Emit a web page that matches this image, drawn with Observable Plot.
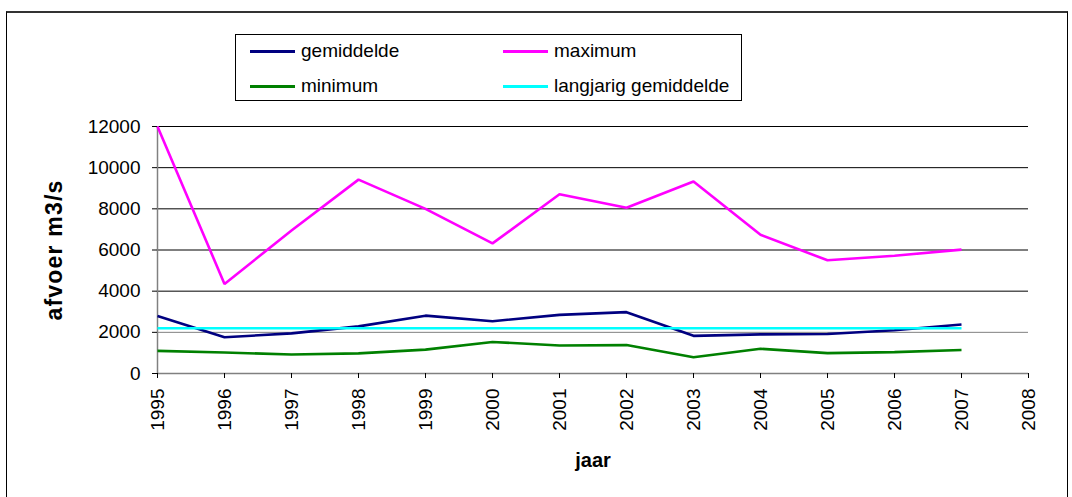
<!DOCTYPE html>
<html>
<head>
<meta charset="utf-8">
<script src="https://cdn.jsdelivr.net/npm/d3@7"></script>
<script src="https://cdn.jsdelivr.net/npm/@observablehq/plot@0.6"></script>
<style>
  body { margin: 0; background: #fff; }
  #wrap { position: relative; width: 1072px; height: 497px; overflow: hidden; font-family: "Liberation Sans", Arial, sans-serif; }
  #frame { position: absolute; left: 6px; top: 11px; width: 1062px; height: 500px; border-top: 2px solid #333; border-left: 1px solid #000; border-right: 1px solid #000; box-sizing: border-box; }
  #chart { position: absolute; left: 0; top: 0; }
  #legend { position: absolute; left: 235px; top: 34px; width: 507px; height: 67px; border: 1px solid #000; box-sizing: border-box; background: #fff; }
  .item { position: absolute; display: flex; align-items: center; font-size: 19px; color: #000; }
  .swatch { width: 45px; height: 3px; margin-right: 6px; }
  g[aria-label="y-axis label"] text { font-weight: bold; font-size: 23px; letter-spacing: 1.2px; }
  g[aria-label="x-axis label"] text { font-weight: bold; font-size: 20px; }
</style>
</head>
<body>
<div id="wrap">
  <div id="frame"></div>
  <div id="chart"></div>
  <div id="legend"></div>
</div>
<script>
const years = [1995, 1996, 1997, 1998, 1999, 2000, 2001, 2002, 2003, 2004, 2005, 2006, 2007];
const gemiddelde = [2790, 1760, 1950, 2290, 2810, 2540, 2850, 2980, 1830, 1900, 1920, 2100, 2380];
const maximum = [12000, 4350, 6950, 9420, 8000, 6320, 8710, 8050, 9330, 6740, 5500, 5720, 6020];
const minimum = [1100, 1020, 920, 980, 1160, 1530, 1360, 1380, 790, 1200, 990, 1040, 1140];
const langjarigGemiddelde = [2200, 2200, 2200, 2200, 2200, 2200, 2200, 2200, 2200, 2200, 2200, 2200, 2200];
const seriesNames = ["gemiddelde", "maximum", "minimum", "langjarig gemiddelde"];
const seriesColors = ["#000080", "#FF00FF", "#008000", "#00FFFF"];
const xTicks = [1995, 1996, 1997, 1998, 1999, 2000, 2001, 2002, 2003, 2004, 2005, 2006, 2007, 2008];
const yTicks = [0, 2000, 4000, 6000, 8000, 10000, 12000];
const gridValues = [2000, 4000, 6000, 8000, 10000, 12000];

const seriesValues = [gemiddelde, maximum, minimum, langjarigGemiddelde];
const rows = [];
seriesNames.forEach((name, i) => {
  years.forEach((yr, j) => rows.push({series: name, jaar: yr, afvoer: seriesValues[i][j]}));
});

const chart = Plot.plot({
  width: 1072,
  height: 497,
  marginLeft: 157,
  marginRight: 44,
  marginTop: 126,
  marginBottom: 124,
  style: {fontFamily: "'Liberation Sans', Arial, sans-serif", fontSize: "19px", background: "transparent", overflow: "visible"},
  x: {domain: [1995, 2008], type: "linear"},
  y: {domain: [0, 12000]},
  color: {domain: seriesNames, range: seriesColors},
  marks: [
    Plot.ruleY(gridValues, {stroke: (d) => d === 2000 ? "#808080" : "#000", strokeWidth: 1, strokeOpacity: 1}),
    Plot.ruleY([0], {stroke: "#808080", strokeWidth: 1.5}),
    Plot.ruleX([1995], {stroke: "#808080", strokeWidth: 1.5}),
    Plot.axisY({ticks: yTicks, tickSize: 5, tickPadding: 12, fontSize: 19, tickFormat: (d) => String(d), stroke: "#000", strokeOpacity: 1, label: "afvoer m3/s", labelAnchor: "center", labelArrow: "none", labelOffset: 112}),
    Plot.axisX({ticks: xTicks, tickSize: 5, tickPadding: 10, fontSize: 19, tickRotate: -90, tickFormat: (d) => String(d), stroke: "#000", strokeOpacity: 1, label: "jaar", labelAnchor: "center", labelArrow: "none", labelOffset: 93}),
    Plot.line(rows, {x: "jaar", y: "afvoer", z: "series", stroke: "series", strokeWidth: 2.6, strokeLinejoin: "miter", strokeLinecap: "butt"})
  ]
});
document.getElementById("chart").appendChild(chart);

const legend = document.getElementById("legend");
const positions = [[14, 5], [267, 5], [14, 40], [267, 40]];
seriesNames.forEach((name, i) => {
  const item = document.createElement("div");
  item.className = "item";
  item.style.left = positions[i][0] + "px";
  item.style.top = positions[i][1] + "px";
  item.style.height = "22px";
  const sw = document.createElement("div");
  sw.className = "swatch";
  sw.style.background = seriesColors[i];
  const label = document.createElement("span");
  label.textContent = name;
  item.appendChild(sw);
  item.appendChild(label);
  legend.appendChild(item);
});
</script>
</body>
</html>
